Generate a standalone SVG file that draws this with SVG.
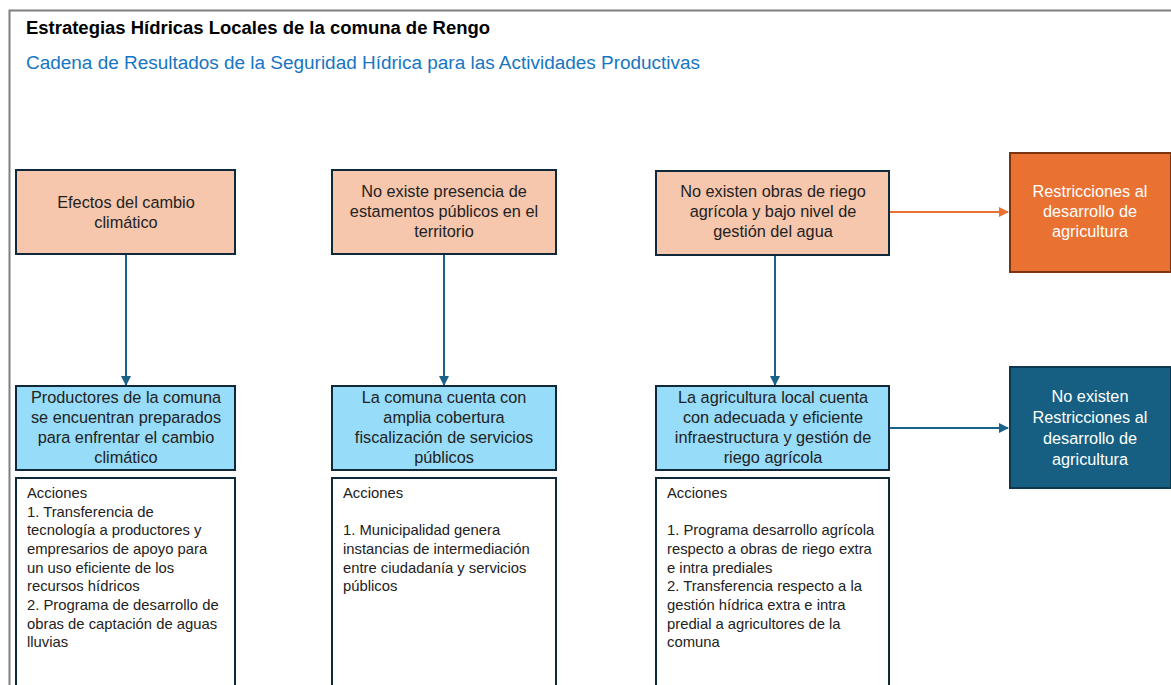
<svg xmlns="http://www.w3.org/2000/svg" width="1171" height="685" viewBox="0 0 1171 685">
<style>
text{font-family:"Liberation Sans",Arial,sans-serif}
.title{font-size:17.5px;font-weight:bold;fill:#000}
.sub{font-size:18px;fill:#1776c2}
.bt{font-size:16.3px;fill:#222;text-anchor:middle}
.wt{font-size:16.3px;fill:#fff;text-anchor:middle}
.at{font-size:14.8px;fill:#222}
.peach{fill:#f6c6ad;stroke:#10293a;stroke-width:2}
.lblue{fill:#97dcf8;stroke:#10293a;stroke-width:2}
.act{fill:#fff;stroke:#10293a;stroke-width:2}
.conn{fill:none;stroke-width:2}
</style>
<defs>
<marker id="ab" viewBox="0 0 10 10" refX="9" refY="5" markerWidth="5" markerHeight="5" orient="auto" markerUnits="strokeWidth"><path d="M0,0 L10,5 L0,10 z" fill="#1b6289"/></marker>
<marker id="ao" viewBox="0 0 10 10" refX="9" refY="5" markerWidth="5" markerHeight="5" orient="auto" markerUnits="strokeWidth"><path d="M0,0 L10,5 L0,10 z" fill="#e97132"/></marker>
</defs>
<rect x="0" y="0" width="1171" height="685" fill="#fff"/>
<path d="M9.5,685 V10.5 H1171" fill="none" stroke="#7f7f7f" stroke-width="2"/>
<text class="title" x="26" y="34" textLength="464" lengthAdjust="spacingAndGlyphs">Estrategias Hídricas Locales de la comuna de Rengo</text>
<text class="sub" x="26" y="69" textLength="674" lengthAdjust="spacingAndGlyphs">Cadena de Resultados de la Seguridad Hídrica para las Actividades Productivas</text>

<g id="connectors">
<path class="conn" stroke="#1b6289" d="M126,255 V385" marker-end="url(#ab)"/>
<path class="conn" stroke="#1b6289" d="M444,255 V385" marker-end="url(#ab)"/>
<path class="conn" stroke="#1b6289" d="M775,255 V385" marker-end="url(#ab)"/>
<path class="conn" stroke="#e97132" d="M890,212 H1008" marker-end="url(#ao)"/>
<path class="conn" stroke="#1b6289" d="M890,428 H1008" marker-end="url(#ab)"/>
</g>

<g id="n1">
<rect class="peach" x="16" y="170" width="219" height="84"/>
<text class="bt" x="126" y="208">Efectos del cambio</text>
<text class="bt" x="126" y="228">climático</text>
</g>
<g id="n2">
<rect class="peach" x="332" y="170" width="224" height="84"/>
<text class="bt" x="444" y="197">No existe presencia de</text>
<text class="bt" x="444" y="217">estamentos públicos en el</text>
<text class="bt" x="444" y="237">territorio</text>
</g>
<g id="n3">
<rect class="peach" x="656" y="171" width="233" height="84"/>
<text class="bt" x="773" y="197">No existen obras de riego</text>
<text class="bt" x="773" y="217">agrícola y bajo nivel de</text>
<text class="bt" x="773" y="237">gestión del agua</text>
</g>
<g id="n4">
<rect x="1010" y="153" width="161" height="119" fill="#e97132" stroke="#7a3510" stroke-width="2"/>
<text class="wt" x="1090" y="197">Restricciones al</text>
<text class="wt" x="1090" y="217">desarrollo de</text>
<text class="wt" x="1090" y="237">agricultura</text>
</g>

<g id="n5">
<rect class="lblue" x="16" y="386" width="219" height="84"/>
<text class="bt" x="126" y="403">Productores de la comuna</text>
<text class="bt" x="126" y="423">se encuentran preparados</text>
<text class="bt" x="126" y="443">para enfrentar el cambio</text>
<text class="bt" x="126" y="463">climático</text>
</g>
<g id="n6">
<rect class="lblue" x="332" y="386" width="224" height="84"/>
<text class="bt" x="444" y="403">La comuna cuenta con</text>
<text class="bt" x="444" y="423">amplia cobertura</text>
<text class="bt" x="444" y="443">fiscalización de servicios</text>
<text class="bt" x="444" y="463">públicos</text>
</g>
<g id="n7">
<rect class="lblue" x="656" y="386" width="233" height="84"/>
<text class="bt" x="773" y="403">La agricultura local cuenta</text>
<text class="bt" x="773" y="423">con adecuada y eficiente</text>
<text class="bt" x="773" y="443">infraestructura  y gestión de</text>
<text class="bt" x="773" y="463">riego agrícola</text>
</g>
<g id="n8">
<rect x="1010" y="367" width="161" height="121" fill="#165f82" stroke="#0d3850" stroke-width="2"/>
<text class="wt" x="1090" y="402">No existen</text>
<text class="wt" x="1090" y="423">Restricciones al</text>
<text class="wt" x="1090" y="444">desarrollo de</text>
<text class="wt" x="1090" y="465">agricultura</text>
</g>

<g id="a1">
<rect class="act" x="16" y="478" width="219" height="220"/>
<text class="at" x="27" y="498">Acciones</text>
<text class="at" x="27" y="517">1. Transferencia de</text>
<text class="at" x="27" y="535">tecnología a productores y</text>
<text class="at" x="27" y="554">empresarios de apoyo para</text>
<text class="at" x="27" y="573">un uso eficiente de los</text>
<text class="at" x="27" y="591">recursos hídricos</text>
<text class="at" x="27" y="610">2. Programa de desarrollo de</text>
<text class="at" x="27" y="629">obras de captación de aguas</text>
<text class="at" x="27" y="647">lluvias</text>
</g>
<g id="a2">
<rect class="act" x="332" y="478" width="224" height="220"/>
<text class="at" x="343" y="498">Acciones</text>
<text class="at" x="343" y="535">1. Municipalidad genera</text>
<text class="at" x="343" y="554">instancias de intermediación</text>
<text class="at" x="343" y="573">entre ciudadanía y servicios</text>
<text class="at" x="343" y="591">públicos</text>
</g>
<g id="a3">
<rect class="act" x="656" y="478" width="233" height="220"/>
<text class="at" x="667" y="498">Acciones</text>
<text class="at" x="667" y="535">1. Programa desarrollo agrícola</text>
<text class="at" x="667" y="554">respecto a obras de riego extra</text>
<text class="at" x="667" y="573">e intra prediales</text>
<text class="at" x="667" y="591">2. Transferencia respecto a la</text>
<text class="at" x="667" y="610">gestión hídrica extra e intra</text>
<text class="at" x="667" y="629">predial a agricultores de la</text>
<text class="at" x="667" y="647">comuna</text>
</g>
</svg>
